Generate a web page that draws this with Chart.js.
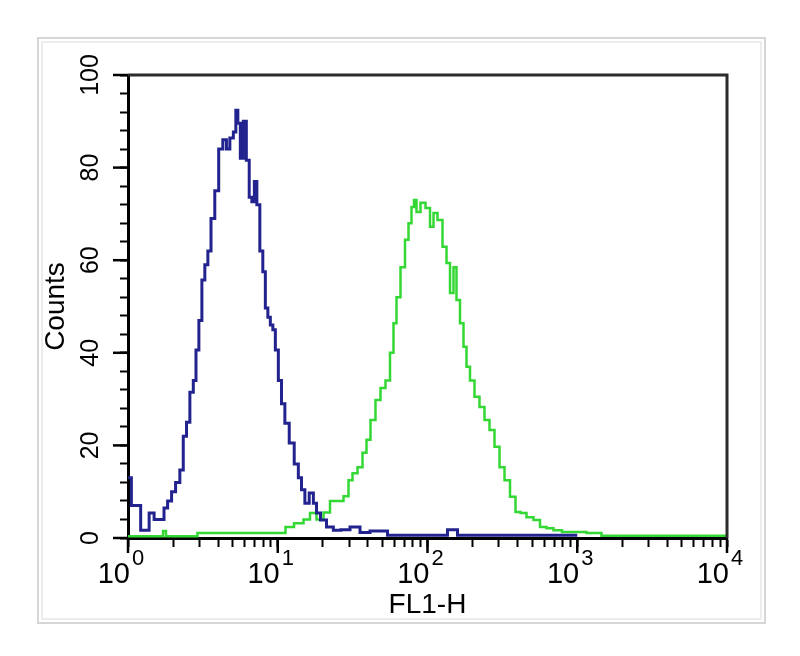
<!DOCTYPE html>
<html>
<head>
<meta charset="utf-8">
<script src="https://cdn.jsdelivr.net/npm/chart.js@4.4.1/dist/chart.umd.min.js"></script>
<style>
  html, body { margin: 0; padding: 0; background: #fff; }
  canvas { display: block; }
</style>
</head>
<body>
<canvas id="hist" width="800" height="656"></canvas>
<script>
// FL1-H channel values (log axis) and counts
var blueX = [1.00, 1.11, 1.33, 1.44, 1.55, 1.71, 1.77, 1.91, 2.00, 2.16, 2.28, 2.40, 2.52, 2.66, 2.80, 2.89,
  3.06, 3.17, 3.35, 3.48, 3.69, 3.91, 4.16, 4.44, 4.65, 4.93, 5.18, 5.32, 5.51, 5.74, 6.04, 6.30,
  6.60, 6.83, 7.13, 7.38, 7.81, 8.09, 8.44, 8.74, 9.11, 9.44, 9.84, 10.35, 10.84, 11.48, 12.40,
  13.38, 14.08, 14.75, 15.61, 16.86, 17.74, 18.57, 20.05, 22.34, 24.76, 28.12, 32.81, 38.25,
  44.61, 52.03, 56.19, 65.53, 130.9, 141.3, 152.6, 164.8, 1000];
var blueY = [13, 7, 1.7, 5.4, 4, 4, 6.5, 8, 10, 12, 14.7, 22, 25, 31.5, 34, 40.6,
  47, 55.7, 59, 62, 69, 75, 84, 86, 84, 86.4, 87.7, 92.4, 89.6, 82, 90, 81.6,
  73.6, 72.6, 77, 72, 62, 57.5, 49.7, 47.7, 46, 45, 40.6, 34, 29, 24.8, 20.5,
  16, 13, 10.4, 7.5, 9.7, 7.5, 5.4, 3.9, 2.4, 1.7, 1.8, 2.4, 1.2,
  1.5, 1.5, 0.6, 0.6, 0.6, 1.8, 1.8, 0.6, 0.6];

var greenX = [1.00, 1.69, 1.74, 1.85, 2.89, 2.93, 10.84, 11.71, 14.08, 15.68, 17.20, 19.15, 21.33, 23.38,
  26.04, 29.01, 30.38, 32.81, 35.43, 38.25, 40.06, 43.26, 46.71, 50.44, 54.48, 57.93, 60.67,
  63.53, 68.60, 72.97, 76.40, 80.01, 82.51, 86.42, 93.31, 100.8, 107.2, 112.2, 121.2, 130.9,
  137.1, 145.8, 152.6, 159.8, 170.0, 178.0, 186.4, 198.2, 214.1, 231.1, 249.7, 269.6, 291.2,
  314.5, 339.6, 372.4, 402.1, 434.2, 483.6, 538.5, 590.7, 657.7, 732.4, 854.3, 1043, 1274,
  1655, 10000];
var greenY = [0.4, 0.4, 1.5, 0.4, 0.4, 1.1, 1.1, 2.4, 3.2, 4, 5.4, 4, 5.5, 8,
  8, 9, 12.5, 14, 15.3, 18.4, 21.2, 25.5, 29.8, 32.4, 34, 40, 46.4,
  52, 58.5, 64.4, 68, 71.5, 73, 70.4, 72.4, 71.3, 67.2, 70.2, 68.7, 62.9,
  59.4, 52.9, 58.5, 51.4, 46.4, 41.3, 37, 34, 30.5, 28.3, 25.5, 23.3, 19.7,
  15.3, 12.5, 8.9, 5.6, 5.4, 4.5, 3.9, 2.4, 2.1, 1.7, 1.3, 1.3, 1.1,
  0.5, 0.5];

var xDecades = [1, 10, 100, 1000, 10000];
var xExponents = ['0', '1', '2', '3', '4'];
var yMajor = [0, 20, 40, 60, 80, 100];

var FONT = '"Liberation Sans", Arial, sans-serif';

function pts(xs, ys) {
  return xs.map(function (x, i) { return {x: x, y: ys[i]}; });
}

var decor = {
  id: 'decor',
  beforeDraw: function (chart) {
    var c = chart.ctx;
    c.save();
    c.fillStyle = '#fff';
    c.fillRect(0, 0, chart.width, chart.height);
    c.strokeStyle = '#ececec';
    c.lineWidth = 2;
    c.strokeRect(42, 42, 719, 577);
    c.strokeStyle = '#d6d6d6';
    c.strokeRect(38, 38, 727, 585);
    c.restore();
  },
  afterDraw: function (chart) {
    var c = chart.ctx, a = chart.chartArea, x = chart.scales.x, y = chart.scales.y;
    c.save();
    // top and right of the box
    c.strokeStyle = '#2b2b2b';
    c.lineWidth = 3;
    c.beginPath();
    c.moveTo(a.left, a.top);
    c.lineTo(a.right, a.top);
    c.lineTo(a.right, a.bottom);
    c.stroke();
    // longer major ticks
    c.strokeStyle = '#000';
    c.lineWidth = 2.5;
    yMajor.forEach(function (v) {
      var py = y.getPixelForValue(v);
      c.beginPath(); c.moveTo(a.left - 15, py); c.lineTo(a.left, py); c.stroke();
    });
    xDecades.forEach(function (v) {
      var px = x.getPixelForValue(v);
      c.beginPath(); c.moveTo(px, a.bottom); c.lineTo(px, a.bottom + 15); c.stroke();
    });
    // x tick labels 10^n
    c.fillStyle = '#000';
    c.textBaseline = 'alphabetic';
    xDecades.forEach(function (v, i) {
      var px = x.getPixelForValue(v);
      c.font = '29px ' + FONT;
      c.textAlign = 'right';
      c.fillText('10', px + 2, 583);
      c.font = '22px ' + FONT;
      c.textAlign = 'left';
      c.fillText(xExponents[i], px + 4, 565);
    });
    c.restore();
  }
};

var ctx = document.getElementById('hist').getContext('2d');
var chart = new Chart(ctx, {
  type: 'line',
  data: {
    datasets: [
      {
        label: 'blue',
        data: pts(blueX, blueY),
        borderColor: '#23238f',
        borderWidth: 3,
        stepped: 'middle',
        pointRadius: 0,
        fill: false
      },
      {
        label: 'green',
        data: pts(greenX, greenY),
        borderColor: '#34d834',
        borderWidth: 2.5,
        stepped: 'middle',
        pointRadius: 0,
        fill: false
      }
    ]
  },
  options: {
    responsive: false,
    animation: false,
    layout: { padding: { top: 75, right: 73, left: 0, bottom: 0 } },
    plugins: { legend: { display: false }, tooltip: { enabled: false } },
    scales: {
      x: {
        type: 'logarithmic',
        min: 1,
        max: 10000,
        afterBuildTicks: function (s) {
          var t = [];
          xDecades.forEach(function (d) {
            for (var k = 1; k <= 9; k++) {
              if (d * k <= 10000) t.push({value: d * k, major: k === 1});
            }
          });
          s.ticks = t;
        },
        afterFit: function (s) { s.height = 118; },
        ticks: { autoSkip: false, maxRotation: 0, callback: function () { return ''; } },
        grid: { drawOnChartArea: false, tickLength: 9, tickColor: '#000', tickWidth: 2 },
        border: { color: '#000', width: 3 },
        title: {
          display: true,
          text: 'FL1-H',
          color: '#000',
          font: { family: FONT, size: 28 },
          padding: { top: 0, bottom: 34 }
        }
      },
      y: {
        min: 0,
        max: 100,
        afterFit: function (s) { s.width = 128; },
        ticks: {
          stepSize: 4,
          autoSkip: false,
          minRotation: 90,
          maxRotation: 90,
          crossAlign: 'center',
          padding: 8,
          color: '#000',
          font: { family: FONT, size: 25 },
          callback: function (v) { return v % 20 === 0 ? v : ''; }
        },
        grid: { drawOnChartArea: false, tickLength: 8, tickColor: '#000', tickWidth: 2 },
        border: { color: '#000', width: 3 },
        title: {
          display: true,
          text: 'Counts',
          color: '#000',
          font: { family: FONT, size: 28 },
          padding: { top: 39, bottom: 0 }
        }
      }
    }
  },
  plugins: [decor]
});
</script>
</body>
</html>
